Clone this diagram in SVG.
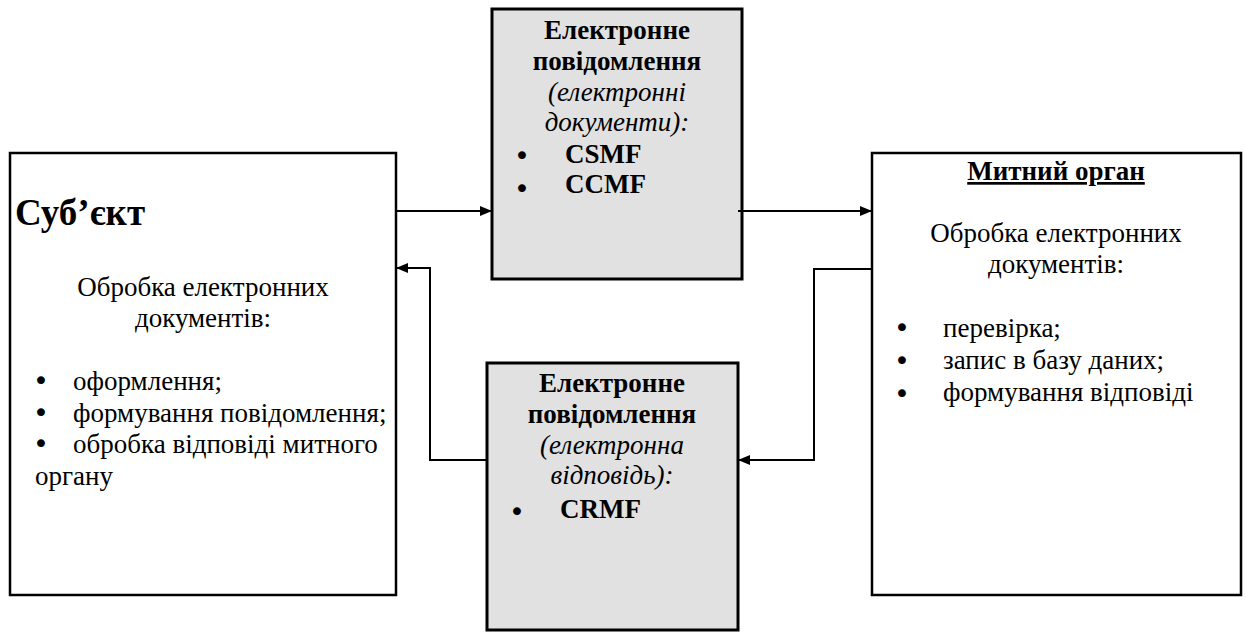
<svg xmlns="http://www.w3.org/2000/svg" width="1246" height="633" viewBox="0 0 1246 633">
  <style>
    .box { fill: #ffffff; stroke: #000000; stroke-width: 2.5; }
    .msg { fill: #e1e1e1; stroke: #000000; stroke-width: 3; }
    text { font-family: "Liberation Serif", "DejaVu Serif", serif; font-size: 27px; fill: #000000; }
    .b { font-weight: bold; }
    .i { font-style: italic; }
    .c { text-anchor: middle; }
    .title { font-size: 37px; font-weight: bold; }
    .dot { font-family: "DejaVu Sans", sans-serif; font-size: 27px; text-anchor: middle; }
    .link { fill: none; stroke: #000000; stroke-width: 2; }
  </style>
  <defs>
    <marker id="arrow" markerWidth="12" markerHeight="10" refX="11" refY="5" orient="auto" markerUnits="userSpaceOnUse">
      <path d="M0,0 L12,5 L0,10 Z" fill="#000000"/>
    </marker>
  </defs>

  <rect width="1246" height="633" fill="#ffffff"/>

  <!-- Subject -->
  <g id="subject">
    <rect class="box" x="10" y="153" width="386" height="442"/>
    <text class="title" x="15" y="225">Суб’єкт</text>
    <text class="c" x="203" y="296">Обробка електронних</text>
    <text class="c" x="203" y="327">документів:</text>
    <text class="dot" x="41" y="390">•</text>
    <text x="73" y="390">оформлення;</text>
    <text class="dot" x="41" y="422">•</text>
    <text x="73" y="422">формування повідомлення;</text>
    <text class="dot" x="41" y="453">•</text>
    <text x="73" y="453">обробка відповіді митного</text>
    <text x="35" y="485">органу</text>
  </g>

  <!-- Outgoing electronic message -->
  <g id="message-docs">
    <rect class="msg" x="492" y="9" width="250" height="270"/>
    <text class="b c" x="617" y="39">Електронне</text>
    <text class="b c" x="617" y="70">повідомлення</text>
    <text class="i c" x="617" y="101">(електронні</text>
    <text class="i c" x="617" y="131">документи):</text>
    <text class="dot" x="522" y="165">•</text>
    <text class="b" x="565" y="163">CSMF</text>
    <text class="dot" x="522" y="198">•</text>
    <text class="b" x="565" y="193">CCMF</text>
  </g>

  <!-- Response electronic message -->
  <g id="message-reply">
    <rect class="msg" x="487" y="363" width="251" height="267"/>
    <text class="b c" x="612" y="392">Електронне</text>
    <text class="b c" x="612" y="423">повідомлення</text>
    <text class="i c" x="612" y="454">(електронна</text>
    <text class="i c" x="612" y="484">відповідь):</text>
    <text class="dot" x="517" y="521">•</text>
    <text class="b" x="560" y="518">CRMF</text>
  </g>

  <!-- Customs authority -->
  <g id="customs">
    <rect class="box" x="872" y="153" width="369" height="442"/>
    <text class="b c" x="1056" y="180" text-decoration="underline">Митний орган</text>
    <text class="c" x="1056" y="242">Обробка електронних</text>
    <text class="c" x="1056" y="273">документів:</text>
    <text class="dot" x="902" y="337">•</text>
    <text x="943" y="337">перевірка;</text>
    <text class="dot" x="902" y="370">•</text>
    <text x="943" y="369">запис в базу даних;</text>
    <text class="dot" x="902" y="403">•</text>
    <text x="943" y="401">формування відповіді</text>
  </g>

  <!-- Connectors -->
  <g id="connectors">
    <path class="link" d="M396,211 H491" marker-end="url(#arrow)"/>
    <path class="link" d="M738,211 H871" marker-end="url(#arrow)"/>
    <path class="link" d="M872,269 H814 V460 H739" marker-end="url(#arrow)"/>
    <path class="link" d="M487,460 H430 V268 H397" marker-end="url(#arrow)"/>
  </g>
</svg>
